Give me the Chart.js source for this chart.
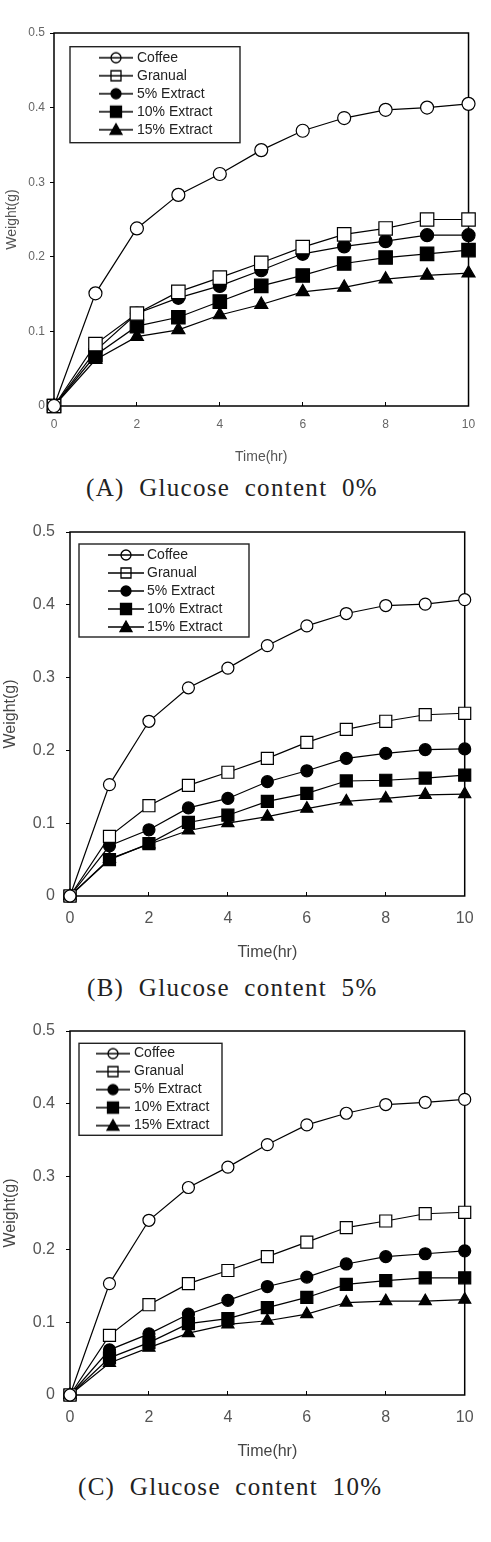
<!DOCTYPE html>
<html><head><meta charset="utf-8">
<script src="https://cdn.jsdelivr.net/npm/chart.js@4.4.1/dist/chart.umd.min.js"></script>
<style>
html,body{margin:0;padding:0;background:#fff;width:491px;height:1542px;overflow:hidden;}
.wrap{position:absolute;left:0;width:491px;}
.cap{position:absolute;font-family:"Liberation Serif","DejaVu Serif",serif;font-size:25px;line-height:25px;letter-spacing:1.3px;word-spacing:7px;color:#222;white-space:pre;}
</style></head>
<body>
<div class="wrap" style="top:0;height:470px"><canvas id="chartA"></canvas></div>
<div class="cap" style="left:86px;top:475px">(A) Glucose content 0%</div>
<div class="wrap" style="top:505px;height:465px"><canvas id="chartB"></canvas></div>
<div class="cap" style="left:87px;top:975px">(B) Glucose content 5%</div>
<div class="wrap" style="top:1005px;height:465px"><canvas id="chartC"></canvas></div>
<div class="cap" style="left:78px;top:1474px">(C) Glucose content 10%</div>
<script>
// ---------- data ----------
const hours = [0, 1, 2, 3, 4, 5, 6, 7, 8, 9, 10];
const seriesNames = ['Coffee', 'Granual', '5% Extract', '10% Extract', '15% Extract'];
const xTickLabels = ['0', '2', '4', '6', '8', '10'];
const yTickLabels = ['0', '0.1', '0.2', '0.3', '0.4', '0.5'];
const xTitle = 'Time(hr)';
const yTitle = 'Weight(g)';

// (A) Glucose content 0%
const coffeeA    = [0, 0.151, 0.238, 0.283, 0.311, 0.343, 0.369, 0.386, 0.397, 0.400, 0.405];
const granualA   = [0, 0.083, 0.124, 0.153, 0.172, 0.192, 0.213, 0.230, 0.238, 0.250, 0.250];
const extract5A  = [0, 0.074, 0.124, 0.145, 0.161, 0.182, 0.204, 0.214, 0.221, 0.229, 0.229];
const extract10A = [0, 0.068, 0.107, 0.119, 0.140, 0.161, 0.175, 0.191, 0.199, 0.204, 0.209];
const extract15A = [0, 0.062, 0.093, 0.102, 0.122, 0.136, 0.153, 0.159, 0.170, 0.175, 0.178];

// (B) Glucose content 5%
const coffeeB    = [0, 0.153, 0.240, 0.286, 0.313, 0.344, 0.371, 0.388, 0.399, 0.401, 0.407];
const granualB   = [0, 0.082, 0.124, 0.152, 0.170, 0.189, 0.211, 0.229, 0.240, 0.249, 0.251];
const extract5B  = [0, 0.069, 0.091, 0.121, 0.134, 0.157, 0.172, 0.189, 0.196, 0.201, 0.202];
const extract10B = [0, 0.050, 0.072, 0.101, 0.111, 0.130, 0.141, 0.158, 0.159, 0.162, 0.166];
const extract15B = [0, 0.051, 0.071, 0.090, 0.100, 0.109, 0.120, 0.130, 0.134, 0.139, 0.140];

// (C) Glucose content 10%
const coffeeC    = [0, 0.153, 0.240, 0.285, 0.313, 0.344, 0.371, 0.387, 0.399, 0.402, 0.406];
const granualC   = [0, 0.082, 0.124, 0.153, 0.171, 0.190, 0.210, 0.230, 0.239, 0.249, 0.251];
const extract5C  = [0, 0.062, 0.084, 0.111, 0.130, 0.149, 0.162, 0.180, 0.190, 0.194, 0.198];
const extract10C = [0, 0.051, 0.072, 0.098, 0.105, 0.120, 0.134, 0.152, 0.157, 0.161, 0.161];
const extract15C = [0, 0.044, 0.065, 0.085, 0.097, 0.102, 0.111, 0.127, 0.129, 0.129, 0.131];

// ---------- styles ----------
const FAMILY = "'Liberation Sans', Arial, sans-serif";
const seriesStyles = [
  { shape: 'circle', fill: '#ffffff', open: true },
  { shape: 'rect', fill: '#ffffff', open: true },
  { shape: 'circle', fill: '#000000', open: false },
  { shape: 'rect', fill: '#000000', open: false },
  { shape: 'triangle', fill: '#000000', open: false }
];

function legendIcon(style, w) {
  const c = document.createElement('canvas');
  c.width = w; c.height = 16;
  const g = c.getContext('2d');
  g.strokeStyle = '#000'; g.lineWidth = 1.3;
  g.beginPath(); g.moveTo(0, 8); g.lineTo(w, 8); g.stroke();
  const cx = w / 2, cy = 8;
  g.beginPath();
  if (style.shape === 'circle') {
    g.arc(cx, cy, 5, 0, Math.PI * 2);
  } else if (style.shape === 'rect') {
    const s = style.open ? 10 : 11;
    g.rect(cx - s / 2, cy - s / 2, s, s);
  } else {
    g.moveTo(cx, cy - 6); g.lineTo(cx + 6, cy + 4.5); g.lineTo(cx - 6, cy + 4.5); g.closePath();
  }
  if (!style.open) { g.fillStyle = '#000'; g.fill(); }
  g.stroke();
  return c;
}

const layoutPlugin = {
  id: 'paperLayout',
  afterLayout(chart, args, o) {
    const lg = chart.legend, a = chart.chartArea;
    if (!lg) return;
    const pad = lg.options.labels.padding;
    const fs = lg.options.labels.font.size;
    lg.left = a.left + o.itemX - pad;
    lg.top = a.top + o.itemY - fs / 2 - pad;
  },
  beforeDatasetsDraw(chart, args, o) {
    const { ctx, chartArea: a } = chart;
    ctx.save();
    ctx.strokeStyle = '#000';
    ctx.lineWidth = 1.5;
    ctx.strokeRect(a.left, a.top, a.right - a.left, a.bottom - a.top);
    ctx.strokeStyle = '#222';
    ctx.lineWidth = 1.4;
    ctx.strokeRect(a.left + o.box[0], a.top + o.box[1], o.box[2], o.box[3]);
    ctx.restore();
  }
};

function makeChart(id, values, cfg) {
  const icons = seriesStyles.map(s => legendIcon(s, cfg.iconW));
  const datasets = values.map((vals, i) => {
    const st = seriesStyles[i];
    return {
      label: seriesNames[i],
      data: hours.map((h, k) => ({ x: h, y: vals[k] })),
      borderColor: '#000',
      borderWidth: 1.2,
      pointStyle: st.shape,
      pointRadius: cfg.radius[st.shape],
      pointBackgroundColor: st.fill,
      pointBorderColor: '#000',
      pointBorderWidth: 1.2,
      tension: 0,
      fill: false,
      clip: false
    };
  });
  return new Chart(document.getElementById(id), {
    type: 'line',
    data: { datasets },
    plugins: [layoutPlugin],
    options: {
      responsive: true,
      maintainAspectRatio: false,
      animation: false,
      layout: { padding: { left: 0, top: cfg.padTop, right: cfg.padRight, bottom: 0 } },
      plugins: {
        tooltip: { enabled: false },
        title: { display: false },
        paperLayout: { itemX: cfg.itemX, itemY: cfg.itemY, box: cfg.box },
        legend: {
          display: true,
          position: 'chartArea',
          align: 'start',
          labels: {
            usePointStyle: true,
            pointStyleWidth: 28,
            padding: 4,
            color: '#222',
            font: { size: 14, family: FAMILY },
            generateLabels: (chart) => chart.data.datasets.map((ds, i) => ({
              text: ds.label,
              pointStyle: icons[i],
              fontColor: '#222',
              fillStyle: '#000',
              strokeStyle: '#000',
              lineWidth: 1,
              hidden: false,
              datasetIndex: i
            }))
          }
        }
      },
      scales: {
        x: {
          type: 'linear',
          min: 0, max: 10,
          afterFit: (s) => { s.height = cfg.xH; },
          ticks: {
            stepSize: 2,
            autoSkip: false,
            maxRotation: 0,
            callback: (v) => xTickLabels[Math.round(v / 2)],
            font: { size: cfg.tickSize, family: FAMILY },
            color: cfg.tickColor,
            padding: cfg.xTickPad
          },
          grid: { drawOnChartArea: false, drawTicks: true, tickLength: -4, color: '#000', lineWidth: 1 },
          border: { display: false },
          title: {
            display: true, text: xTitle,
            font: { size: cfg.titleSize, family: FAMILY },
            color: cfg.titleColor,
            padding: { top: 0, bottom: cfg.xTitlePad }
          }
        },
        y: {
          type: 'linear',
          min: 0, max: 0.5,
          afterFit: (s) => { s.width = cfg.yW; },
          ticks: {
            stepSize: 0.1,
            autoSkip: false,
            callback: (v) => yTickLabels[Math.round(v * 10)],
            font: { size: cfg.tickSize, family: FAMILY },
            color: cfg.tickColor,
            padding: cfg.yTickPad
          },
          grid: { drawOnChartArea: false, drawTicks: true, tickLength: 4, color: '#000', lineWidth: 1 },
          border: { display: false },
          title: {
            display: true, text: yTitle,
            font: { size: cfg.titleSize, family: FAMILY },
            color: cfg.titleColor,
            padding: { top: cfg.yTitlePad, bottom: 0 }
          }
        }
      }
    }
  });
}

makeChart('chartA', [coffeeA, granualA, extract5A, extract10A, extract15A], {
  padTop: 33, padRight: 9, xH: 64, yW: 54,
  tickSize: 12, titleSize: 14, tickColor: '#666', titleColor: '#555',
  xTickPad: 15.8, yTickPad: 5, xTitlePad: 4.6, yTitlePad: 3.6,
  iconW: 34, itemX: 48, itemY: 24.7, box: [16, 13.7, 170, 96],
  radius: { circle: 6.5, rect: 9.5, triangle: 7.5 }
});
makeChart('chartB', [coffeeB, granualB, extract5B, extract10B, extract15B], {
  padTop: 27, padRight: 19, xH: 74, yW: 70,
  tickSize: 16, titleSize: 16, tickColor: '#555', titleColor: '#444',
  xTickPad: 17.4, yTickPad: 11, xTitlePad: 7.4, yTitlePad: 1.4,
  iconW: 36, itemX: 42, itemY: 23, box: [9, 12, 170, 93],
  radius: { circle: 6, rect: 8.5, triangle: 7 }
});
makeChart('chartC', [coffeeC, granualC, extract5C, extract10C, extract15C], {
  padTop: 26, padRight: 19, xH: 75, yW: 70,
  tickSize: 16, titleSize: 16, tickColor: '#555', titleColor: '#444',
  xTickPad: 17.4, yTickPad: 11, xTitlePad: 8.4, yTitlePad: 1.4,
  iconW: 34, itemX: 29, itemY: 22.6, box: [9, 12.3, 143, 92],
  radius: { circle: 6, rect: 8.5, triangle: 7 }
});
</script>
</body></html>
